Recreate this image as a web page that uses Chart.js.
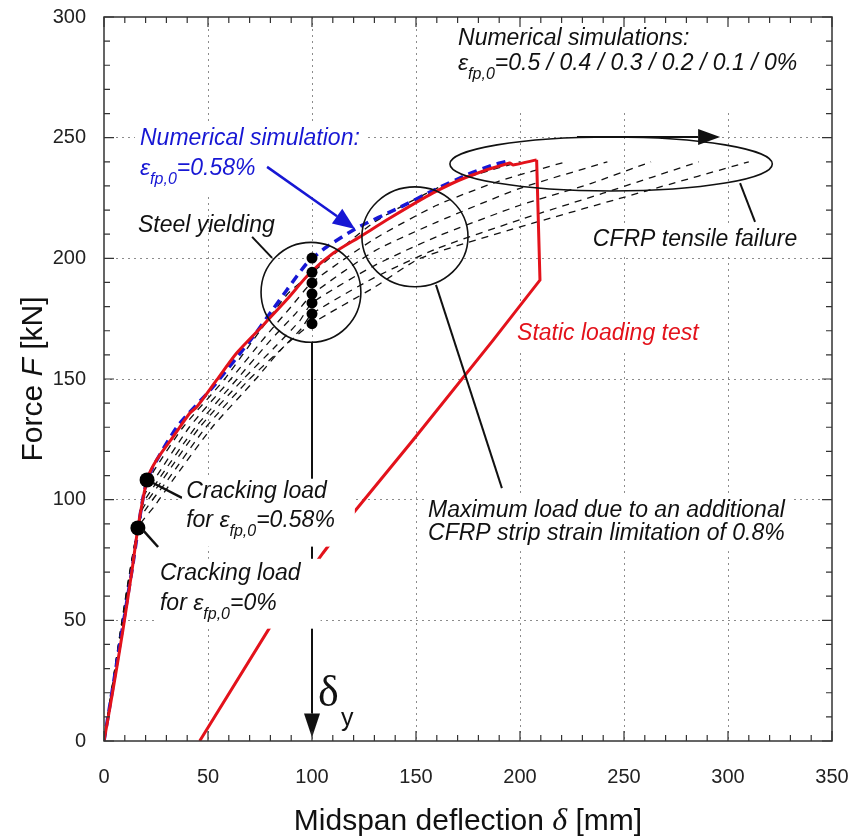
<!DOCTYPE html>
<html>
<head>
<meta charset="utf-8">
<script src="https://cdn.jsdelivr.net/npm/chart.js@4.4.0/dist/chart.umd.min.js"></script>
<style>
  html, body { margin: 0; padding: 0; background: #fff; }
</style>
</head>
<body>
<canvas id="forceChart" width="849" height="838"></canvas>
<script>
const FONT = '"Liberation Sans", Arial, Helvetica, sans-serif';
const SERIF = '"Liberation Serif", "Times New Roman", serif';
const RED = '#e3121b';
const BLUE = '#1717d4';

const xTicks = [0, 50, 100, 150, 200, 250, 300, 350];
const yTicks = [0, 50, 100, 150, 200, 250, 300];

// static loading test (red): loading branch
const testDefl = [0, 4.3, 9.1, 13.5, 16.3, 20.7, 25.3, 33.2, 41.3, 44.6, 54.2, 63.8, 76.6, 87.8, 99, 110.3, 123, 137.5, 158, 174.5, 195, 196.6, 208];
const testForce = [0, 21, 46, 70.9, 88.3, 108.2, 116.5, 126, 135.9, 138.4, 149.6, 160.8, 172.4, 182.8, 193.9, 202.2, 208.9, 216.7, 227, 233.7, 239.5, 238.7, 240.8];
// static loading test (red): failure drop and unloading branch
const unloadDefl = [208, 209.6, 187, 148.6, 118.3, 105.3, 79.8, 46];
const unloadForce = [240.8, 191, 166, 124.7, 92.8, 77.9, 47.2, 0];

// numerical simulation eps = 0.58% (blue dashed)
const sim058Defl = [0, 13.5, 20.7, 35, 52.4, 71.6, 81, 88, 97.6, 107, 121.6, 142, 158, 174.5, 187, 193];
const sim058Force = [0, 71, 108, 130, 146.7, 167.4, 178.6, 187, 198, 204.7, 212.6, 221, 228, 234.6, 238.7, 240];

// numerical simulations eps = 0.5 / 0.4 / 0.3 / 0.2 / 0.1 / 0% (black dashed)
const sim05Defl = [0, 20, 24, 38, 58, 75, 88, 100, 130, 160, 180, 200];
const sim05Force = [0, 105, 112, 130, 150, 170, 185, 194, 215, 229, 235, 240];
const sim04Defl = [0, 19, 24, 41, 61, 78, 90, 100, 130, 160, 190, 222];
const sim04Force = [0, 101, 108, 130, 150, 168, 180, 190, 208, 222, 232, 240];
const sim03Defl = [0, 18.2, 26, 44, 64, 80, 92, 100, 130, 160, 200, 242];
const sim03Force = [0, 97, 108, 130, 150, 166, 177, 185, 203, 215, 229, 240];
const sim02Defl = [0, 17.5, 28, 46, 67, 83, 94, 100, 130, 160, 200, 234, 263];
const sim02Force = [0, 94, 108, 130, 150, 164, 174, 181.5, 197, 209, 222, 231, 240];
const sim01Defl = [0, 17, 30.5, 49, 70, 86, 95, 100, 130, 160, 200, 240, 286];
const sim01Force = [0, 91, 108, 130, 150, 163, 171, 177, 192, 204, 216, 227, 240];
const sim00Defl = [0, 16.3, 24, 33, 52, 73, 86, 100, 130, 152, 200, 261, 310];
const sim00Force = [0, 88, 97, 108, 130, 150, 163, 173, 188, 200, 213, 228, 240];

// steel yielding points and cracking points
const yieldDefl = [100, 100, 100, 100, 100, 100, 100];
const yieldForce = [200.1, 194.2, 189.8, 185.3, 181.5, 177, 172.9];
const crackDefl = [16.3, 20.7];
const crackForce = [88.3, 108.2];

const pts = (xs, ys) => xs.map((x, i) => ({ x: x, y: ys[i] }));

const simCurves = [
  [sim05Defl, sim05Force], [sim04Defl, sim04Force], [sim03Defl, sim03Force],
  [sim02Defl, sim02Force], [sim01Defl, sim01Force], [sim00Defl, sim00Force]
];

const datasets = [
  { data: pts(crackDefl, crackForce), pointRadius: 7.5, backgroundColor: '#000', borderWidth: 0, showLine: false },
  { data: pts(yieldDefl, yieldForce), pointRadius: 5.5, backgroundColor: '#000', borderWidth: 0, showLine: false },
  { data: pts(testDefl, testForce), showLine: true, borderColor: RED, borderWidth: 3, pointRadius: 0, tension: 0.25 },
  { data: pts(unloadDefl, unloadForce), showLine: true, borderColor: RED, borderWidth: 3, pointRadius: 0, tension: 0 },
  { data: pts(sim058Defl, sim058Force), showLine: true, borderColor: BLUE, borderWidth: 3.5, borderDash: [9, 6], pointRadius: 0, tension: 0.2 }
];
simCurves.forEach(c => {
  datasets.push({ data: pts(c[0], c[1]), showLine: true, borderColor: '#111', borderWidth: 1.3, borderDash: [7, 6], pointRadius: 0, tension: 0.2 });
});

// ---------- annotation helpers ----------
function textRun(ctx, parts, size, x, y, color, draw) {
  let cx = x;
  for (const [t, sub] of parts) {
    const s = sub ? Math.round(size * 0.68) : size;
    ctx.font = `italic ${s}px ${FONT}`;
    if (draw) {
      ctx.fillStyle = color;
      ctx.fillText(t, cx, y + (sub ? size * 0.38 : 0));
    }
    cx += ctx.measureText(t).width;
  }
  return cx - x;
}

function drawNote(ctx, chart, n) {
  const x = chart.scales.x.getPixelForValue(n.at[0]);
  const y = chart.scales.y.getPixelForValue(n.at[1]);
  const size = n.size || 23;
  const gap = n.gap || 25;
  ctx.textAlign = 'left';
  ctx.textBaseline = 'alphabetic';
  let w = 0;
  n.lines.forEach(l => { w = Math.max(w, textRun(ctx, l, size, 0, 0, null, false)); });
  const last = y + (n.lines.length - 1) * gap;
  const hasSub = n.lines[n.lines.length - 1].some(p => p[1]);
  if (n.box) {
    const [pt, pr, pb, pl] = n.box;
    const top = y - size * 0.75 - pt;
    const bottom = last + (hasSub ? size * 0.55 : size * 0.22) + pb;
    ctx.fillStyle = '#fff';
    ctx.fillRect(x - pl, top, w + pl + pr, bottom - top);
  }
  n.lines.forEach((l, i) => textRun(ctx, l, size, x, y + i * gap, n.color || '#111', true));
}

function P(chart, x, y) {
  return [chart.scales.x.getPixelForValue(x), chart.scales.y.getPixelForValue(y)];
}

function segment(ctx, a, b, color, width) {
  ctx.strokeStyle = color; ctx.lineWidth = width; ctx.setLineDash([]);
  ctx.beginPath(); ctx.moveTo(a[0], a[1]); ctx.lineTo(b[0], b[1]); ctx.stroke();
}

function arrow(ctx, a, b, color, width, len, half) {
  const ang = Math.atan2(b[1] - a[1], b[0] - a[0]);
  const bx = b[0] - Math.cos(ang) * len, by = b[1] - Math.sin(ang) * len;
  segment(ctx, a, [bx, by], color, width);
  ctx.fillStyle = color;
  ctx.beginPath();
  ctx.moveTo(b[0], b[1]);
  ctx.lineTo(bx + Math.sin(ang) * half, by - Math.cos(ang) * half);
  ctx.lineTo(bx - Math.sin(ang) * half, by + Math.cos(ang) * half);
  ctx.closePath(); ctx.fill();
}

function ellipse(ctx, chart, cx, cy, rx, ry) {
  const c = P(chart, cx, cy);
  const e = P(chart, cx + rx, cy + ry);
  ctx.strokeStyle = '#111'; ctx.lineWidth = 1.6; ctx.setLineDash([]);
  ctx.beginPath();
  ctx.ellipse(c[0], c[1], Math.abs(e[0] - c[0]), Math.abs(e[1] - c[1]), 0, 0, Math.PI * 2);
  ctx.stroke();
}

const notes = [
  { at: [17.3, 247], gap: 30, color: BLUE, box: [3, 6, 8, 5],
    lines: [[['Numerical simulation:', 0]], [['ε', 0], ['fp,0', 1], ['=0.58%', 0]]] },
  { at: [170.2, 288.4], gap: 25, box: [5, 8, 30, 4],
    lines: [[['Numerical simulations:', 0]], [['ε', 0], ['fp,0', 1], ['=0.5 / 0.4 / 0.3 / 0.2 / 0.1 / 0%', 0]]] },
  { at: [16.3, 210.9], lines: [[['Steel yielding', 0]]] },
  { at: [235, 205.1], box: [4, 6, 6, 4], lines: [[['CFRP tensile failure', 0]]] },
  { at: [198.6, 166.2], color: RED, box: [4, 6, 6, 4], lines: [[['Static loading test', 0]]] },
  { at: [155.8, 92.8], gap: 23, box: [4, 6, 6, 4],
    lines: [[['Maximum load due to an additional', 0]], [['CFRP strip strain limitation of 0.8%', 0]]] },
  { at: [39.5, 100.7], gap: 29, box: [2, 20, 7, 4],
    lines: [[['Cracking load', 0]], [['for ', 0], ['ε', 0], ['fp,0', 1], ['=0.58%', 0]]] },
  { at: [26.9, 66.7], gap: 30, box: [4, 20, 6, 4],
    lines: [[['Cracking load', 0]], [['for ', 0], ['ε', 0], ['fp,0', 1], ['=0%', 0]]] }
];

const annotations = {
  id: 'annotations',
  afterDatasetsDraw(chart) {
    const ctx = chart.ctx;
    ctx.save();
    // circles / ellipse
    ellipse(ctx, chart, 99.5, 185.9, 24, 20.7);
    ellipse(ctx, chart, 149.5, 208.9, 25.5, 20.7);
    ellipse(ctx, chart, 243.8, 239.1, 77.5, 11.2);
    // leader lines
    segment(ctx, P(chart, 71.2, 208.9), P(chart, 80.8, 200.2), '#111', 2);
    segment(ctx, P(chart, 305.8, 231.2), P(chart, 313, 215.1), '#111', 2);
    segment(ctx, P(chart, 159.6, 189), P(chart, 191.3, 104.8), '#111', 2);
    segment(ctx, P(chart, 23.6, 106.9), P(chart, 37.5, 100.7), '#111', 2.5);
    segment(ctx, P(chart, 18.75, 87.4), P(chart, 26, 80.4), '#111', 2.5);
    // delta_y arrow
    arrow(ctx, P(chart, 100, 165.2), P(chart, 100, 1.5), '#111', 2, 24, 8);
    // boxed texts
    notes.forEach(n => drawNote(ctx, chart, n));
    // arrows drawn above boxes
    arrow(ctx, P(chart, 78.4, 237.9), P(chart, 120.7, 212.2), BLUE, 2.5, 22, 9);
    arrow(ctx, P(chart, 227.4, 250.3), P(chart, 296.2, 250.3), '#111', 2, 22, 8);
    // delta_y label
    const d = P(chart, 100, 0);
    ctx.fillStyle = '#111';
    ctx.font = `44px ${SERIF}`;
    ctx.fillText('δ', d[0] + 6, d[1] - 35);
    ctx.font = `25px ${FONT}`;
    ctx.fillText('y', d[0] + 29, d[1] - 15);
    ctx.restore();
  },
  afterDraw(chart) {
    const ctx = chart.ctx;
    const a = chart.chartArea;
    const xs = chart.scales.x, ys = chart.scales.y;
    ctx.save();
    ctx.strokeStyle = '#333'; ctx.lineWidth = 1.5; ctx.setLineDash([]);
    ctx.strokeRect(a.left, a.top, a.right - a.left, a.bottom - a.top);
    ctx.lineWidth = 1.2;
    ctx.beginPath();
    for (let v = xs.min; v <= xs.max; v += 10) {
      const p = xs.getPixelForValue(v);
      const l = v % 50 === 0 ? 10 : 6;
      ctx.moveTo(p, a.bottom); ctx.lineTo(p, a.bottom - l);
      ctx.moveTo(p, a.top); ctx.lineTo(p, a.top + l);
    }
    for (let v = ys.min; v <= ys.max; v += 10) {
      const p = ys.getPixelForValue(v);
      const l = v % 50 === 0 ? 10 : 6;
      ctx.moveTo(a.left, p); ctx.lineTo(a.left + l, p);
      ctx.moveTo(a.right, p); ctx.lineTo(a.right - l, p);
    }
    ctx.stroke();

    // axis titles
    ctx.fillStyle = '#111';
    ctx.textBaseline = 'alphabetic';
    ctx.textAlign = 'left';
    const tSize = 30;
    const xParts = [['Midspan deflection ', `${tSize}px ${FONT}`], ['δ', `italic ${tSize + 2}px ${SERIF}`], [' [mm]', `${tSize}px ${FONT}`]];
    let tw = 0;
    xParts.forEach(p => { ctx.font = p[1]; tw += ctx.measureText(p[0]).width; });
    let cx = (a.left + a.right) / 2 - tw / 2;
    xParts.forEach(p => { ctx.font = p[1]; ctx.fillText(p[0], cx, 830); cx += ctx.measureText(p[0]).width; });

    const yParts = [['Force ', `${tSize}px ${FONT}`], ['F', `italic ${tSize}px ${FONT}`], [' [kN]', `${tSize}px ${FONT}`]];
    tw = 0;
    yParts.forEach(p => { ctx.font = p[1]; tw += ctx.measureText(p[0]).width; });
    ctx.translate(42, (a.top + a.bottom) / 2);
    ctx.rotate(-Math.PI / 2);
    cx = -tw / 2;
    yParts.forEach(p => { ctx.font = p[1]; ctx.fillText(p[0], cx, 0); cx += ctx.measureText(p[0]).width; });
    ctx.restore();
  }
};

const gridColor = c => (c.tick && c.tick.value > c.scale.min && c.tick.value < c.scale.max) ? '#8c8c8c' : 'rgba(0,0,0,0)';

new Chart(document.getElementById('forceChart').getContext('2d'), {
  type: 'scatter',
  data: { datasets: datasets },
  options: {
    responsive: false,
    animation: false,
    layout: { padding: { top: 17, right: 17, left: 0, bottom: 0 } },
    plugins: { legend: { display: false }, tooltip: { enabled: false } },
    scales: {
      x: {
        type: 'linear', min: 0, max: 350,
        afterFit: s => { s.height = 97; s.paddingLeft = 0; s.paddingRight = 0; },
        afterBuildTicks: s => { s.ticks = xTicks.map(v => ({ value: v })); },
        ticks: { padding: 24, font: { size: 20, family: FONT }, color: '#222', maxRotation: 0, autoSkip: false },
        grid: { color: gridColor, lineWidth: 1, drawTicks: false },
        border: { display: false, dash: [2, 4] }
      },
      y: {
        type: 'linear', min: 0, max: 300,
        afterFit: s => { s.width = 104; s.paddingTop = 0; s.paddingBottom = 0; },
        afterBuildTicks: s => { s.ticks = yTicks.map(v => ({ value: v })); },
        ticks: { padding: 18, font: { size: 20, family: FONT }, color: '#222', autoSkip: false },
        grid: { color: gridColor, lineWidth: 1, drawTicks: false },
        border: { display: false, dash: [2, 4] }
      }
    }
  },
  plugins: [annotations]
});
</script>
</body>
</html>
